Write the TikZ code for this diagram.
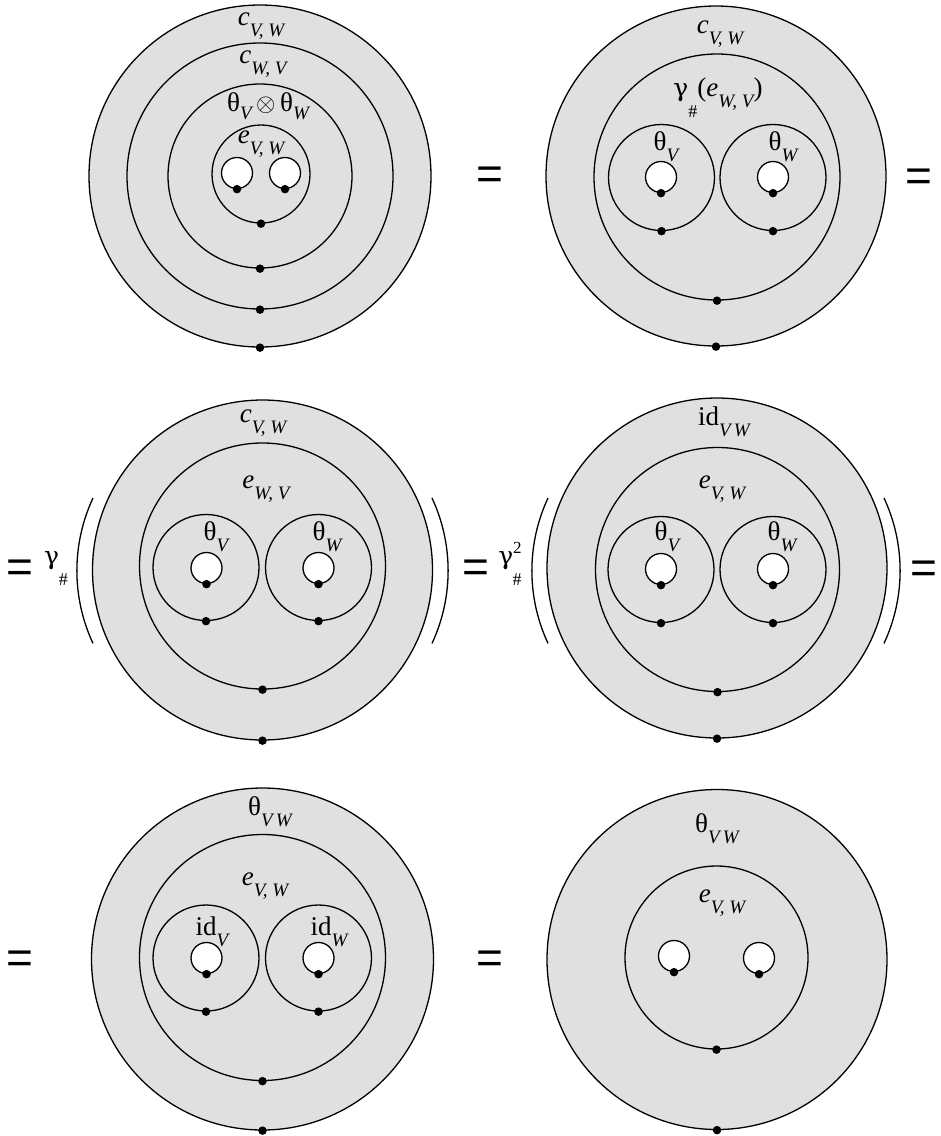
\documentclass[tikz,border=0pt]{standalone}
\usepackage{fontspec}
\setmainfont{Liberation Serif}
\newfontfamily\eqfont{Liberation Sans}
\newfontfamily\grfont{DejaVu Serif}

\definecolor{diskgray}{gray}{0.88}
\newcommand{\lsub}[1]{\raisebox{-11pt}{\fontsize{19}{21}\selectfont\itshape #1}}
\newcommand{\hsub}{\raisebox{-21pt}{\fontsize{18}{20}\selectfont\#}}
\newcommand{\gam}{{\grfont\fontsize{25}{28}\selectfont γ}}

\begin{document}
\begin{tikzpicture}[x=1pt, y=-1pt,
    disk/.style={circle, draw, line width=1.3pt, fill=diskgray, inner sep=0pt, minimum size=#1},
    ring/.style={circle, draw, line width=1.3pt, inner sep=0pt, minimum size=#1},
    hole/.style={circle, draw, line width=1.3pt, fill=white, inner sep=0pt, minimum size=31pt},
    bdot/.style={circle, fill=black, inner sep=0pt, minimum size=8.5pt},
    lbl/.style={anchor=base, inner sep=0pt, font=\fontsize{27}{30}\selectfont},
    eq/.style={inner sep=0pt, font=\eqfont\fontsize{46}{50}\selectfont},
    paren/.style={line width=1.3pt}
]
\useasboundingbox (0,0) rectangle (941,1136);

% first row
\node[disk=342pt] (outA) at (260,176) {};
\node[ring=266pt] (cwvA) at (260,176) {};
\node[ring=184pt] (thA) at (260,176) {};
\node[ring=98pt] (eA) at (261,174) {};
\node[hole] (hvA) at (237,173) {};
\node[hole] (hwA) at (285,173) {};
\node[lbl] (lcA) at (261,25) {\textit{c}\lsub{V, W}};
\node[lbl] (lcwA) at (263,63) {\textit{c}\lsub{W, V}};
\node[lbl] (ltA) at (268,111) {θ\raisebox{-8pt}{\fontsize{19}{21}\selectfont\itshape V}\,$\otimes$\,θ\raisebox{-8pt}{\fontsize{19}{21}\selectfont\itshape W}};
\node[lbl] (leA) at (261,143) {\textit{e}\lsub{V, W}};
\node[eq] (eqA) at (490,178) {=};

\node[disk=340pt] (outB) at (716,176) {};
\node[ring=246pt] (gB) at (717,177) {};
\node[ring=106pt] (tvB) at (661.5,177.5) {};
\node[ring=106pt] (twB) at (773,177.5) {};
\node[hole] (hvB) at (661,177) {};
\node[hole] (hwB) at (773,177) {};
\node[lbl] (lcB) at (720,33) {\textit{c}\lsub{V, W}};
\node[lbl] (lgB) at (718,96) {\gam\hsub(\textit{e}\lsub{W, V})};
\node[lbl] (ltvB) at (666,150) {θ\lsub{V}};
\node[lbl] (ltwB) at (783,150) {θ\lsub{W}};
\node[eq] (eqB) at (919,180) {=};

% second row
\node[eq] (eqC) at (20,571) {=};
\node[lbl] (lgC) at (56,564) {\gam\hsub};
\draw[paren] (93,498) arc[start angle=205, end angle=155, radius=172];
\node[disk=340pt] (outC) at (262.5,570) {};
\node[ring=246pt] (mC) at (262.5,566) {};
\node[ring=106pt] (tvC) at (206,567.5) {};
\node[ring=106pt] (twC) at (318.5,567.5) {};
\node[hole] (hvC) at (206.5,568) {};
\node[hole] (hwC) at (318.5,568) {};
\node[lbl] (lcC) at (263,422) {\textit{c}\lsub{V, W}};
\node[lbl] (leC) at (266,488) {\textit{e}\lsub{W, V}};
\node[lbl] (ltvC) at (216,540) {θ\lsub{V}};
\node[lbl] (ltwC) at (327,540) {θ\lsub{W}};
\draw[paren] (432,498) arc[start angle=-25, end angle=25, radius=172];

\node[eq] (eqD) at (476,571) {=};
\node[lbl] (lgD) at (510,564) {\gam\raisebox{11pt}{\fontsize{17}{19}\selectfont 2}\llap{\hsub}};
\draw[paren] (548,498) arc[start angle=205, end angle=155, radius=172];
\node[disk=340pt] (outD) at (717,568) {};
\node[ring=244pt] (mD) at (717.5,569.5) {};
\node[ring=106pt] (tvD) at (661,569.5) {};
\node[ring=106pt] (twD) at (773,569.5) {};
\node[hole] (hvD) at (661,569) {};
\node[hole] (hwD) at (773,569) {};
\node[lbl] (lidD) at (724,425) {id\lsub{V\,W}};
\node[lbl] (leD) at (722,488) {\textit{e}\lsub{V, W}};
\node[lbl] (ltvD) at (667,540) {θ\lsub{V}};
\node[lbl] (ltwD) at (782,540) {θ\lsub{W}};
\draw[paren] (884,498) arc[start angle=-25, end angle=25, radius=172];
\node[eq] (eqE) at (924,572) {=};

% third row
\node[eq] (eqF) at (20,962) {=};
\node[disk=342pt] (outE) at (262.5,959) {};
\node[ring=246pt] (mE) at (262.5,957.5) {};
\node[ring=106pt] (tvE) at (206,958) {};
\node[ring=106pt] (twE) at (318.5,958) {};
\node[hole] (hvE) at (206.5,958) {};
\node[hole] (hwE) at (318.5,958) {};
\node[lbl] (ltE) at (270,815) {θ\lsub{V\,W}};
\node[lbl] (leE) at (265,885) {\textit{e}\lsub{V, W}};
\node[lbl] (lidvE) at (212,935) {id\lsub{V}};
\node[lbl] (lidwE) at (329,935) {id\lsub{W}};

\node[eq] (eqG) at (490,962) {=};
\node[disk=340pt] (outF) at (717,959.5) {};
\node[ring=183pt] (eF) at (716.5,957.5) {};
\node[hole] (hvF) at (674,956) {};
\node[hole] (hwF) at (759,958) {};
\node[lbl] (ltF) at (717,832) {θ\lsub{V\,W}};
\node[lbl] (leF) at (722,902) {\textit{e}\lsub{V, W}};

\foreach \n in {outA,cwvA,thA,eA,hvA,hwA,outB,gB,tvB,twB,hvB,hwB,
                outC,mC,tvC,twC,hvC,hwC,outD,mD,tvD,twD,hvD,hwD,
                outE,mE,tvE,twE,hvE,hwE,outF,eF,hvF,hwF}
  \node[bdot] at (\n.south) {};
\end{tikzpicture}
\end{document}
